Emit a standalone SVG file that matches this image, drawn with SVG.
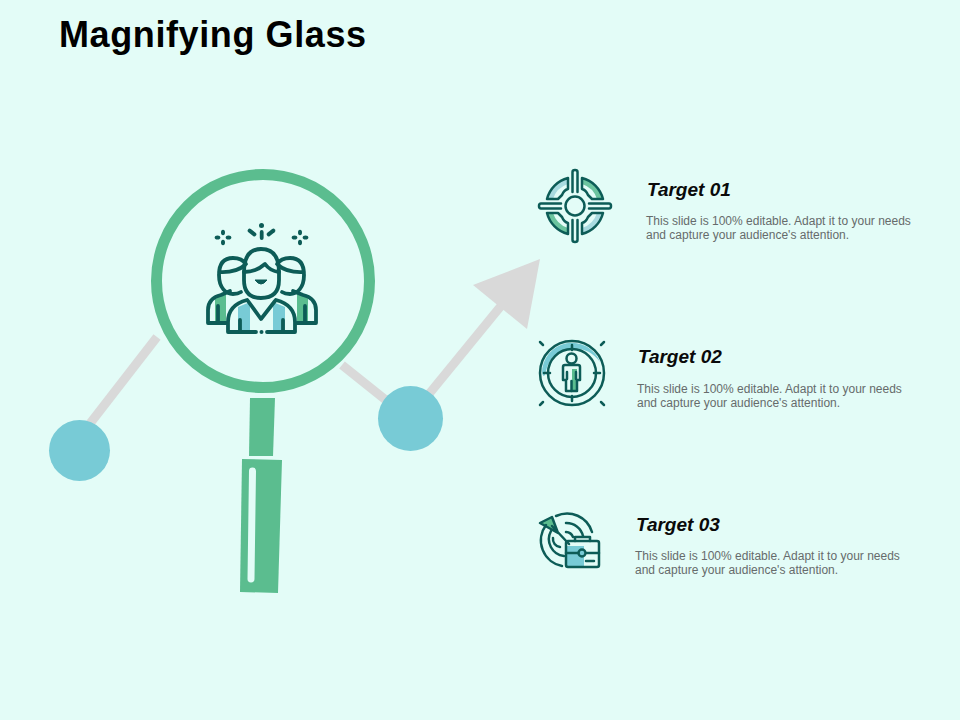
<svg xmlns="http://www.w3.org/2000/svg" width="960" height="720" viewBox="0 0 960 720">
<style>
.h{font-family:"Liberation Sans",Arial,sans-serif;font-size:19px;font-weight:700;font-style:italic;fill:#0a0a0a}
.b{font-family:"Liberation Sans",Arial,sans-serif;font-size:12px;fill:#666b6b}
.i{fill:none;stroke:#0d5c57;stroke-width:3.800;stroke-linecap:round;stroke-linejoin:round}
.t{fill:none;stroke:#0d5c57;stroke-width:2.500;stroke-linecap:round;stroke-linejoin:round}
.g{fill:#5bbd8f}.c{fill:#78cbd6}
</style>
<rect width="960" height="720" fill="#e3fcf7"/>
<text x="59" y="47" font-family="Liberation Sans,Arial,sans-serif" font-size="36" letter-spacing="0.600" font-weight="700" fill="#000">Magnifying Glass</text>
<g id="connectors">
<path d="M157 337L85 430" stroke="#d9d9d9" stroke-width="9" fill="none"/>
<path d="M342 365L392 405" stroke="#d9d9d9" stroke-width="9" fill="none"/>
<path d="M420 405L505 301" stroke="#d9d9d9" stroke-width="9" fill="none"/>
<path d="M540 259L473 285L527 329Z" fill="#d9d9d9"/>
</g>
<g id="dot-left"><circle cx="79.500" cy="450.500" r="30.500" class="c"/></g>
<g id="dot-right"><circle cx="410.500" cy="418.500" r="32.500" class="c"/></g>
<g id="magnifier">
<circle cx="263" cy="281" r="106.500" fill="#e3fcf7" stroke="#5bbd8f" stroke-width="11"/>
<path d="M250 398L275 398L273 456L249 456Z" class="g"/>
<path d="M242 459L282 460L278 593L240 592Z" class="g"/>
<path d="M252.500 471L251 579" stroke="#e3fcf7" stroke-width="7" stroke-linecap="round"/>
</g>
<g id="people-icon">
<path d="M215 298L226 294V323H215Z" class="g"/>
<path d="M308 298L297 294V323H308Z" class="g"/>
<path d="M238 307L250 302V331H238Z" class="c"/>
<path d="M285 307L273 302V331H285Z" class="c"/>
<path class="i" d="M226 323H208V310Q208 298 221 295L230 291"/>
<path class="i" d="M297 323H316V310Q316 298 303 295L293 291"/>
<path class="i" d="M218 306V322M305 306V322"/>
<path class="i" d="M219 275Q219 258 233 258Q242 258 246 264M219 275C219 288 226 294 233 294Q238 294 241 292M219 272Q236 273 245 265"/>
<path class="i" d="M304 275Q304 258 290 258Q281 258 277 264M304 275C304 288 297 294 290 294Q285 294 282 292M304 272Q287 273 278 265"/>
<path class="i" d="M244 272Q244 249 261 249Q279 249 279 272V280Q279 298 261 298Q244 298 244 280Z"/>
<path class="i" d="M244 272Q256 272 265 264Q270 271 279 272"/>
<path class="i" d="M247 300Q228 305 228 322V332H256M276 300Q295 305 295 322V332H267"/>
<path class="i" d="M248 301L261 319L275 301M240 320V331M283 320V331"/>
<path d="M255 280Q261 288 267 280Z" fill="#0d5c57" stroke="#0d5c57"/>
<circle cx="261.500" cy="332" r="2" fill="#0d5c57"/>
<g fill="#0d5c57">
<circle cx="261.500" cy="225.500" r="2.500"/><rect x="259.800" y="230" width="3.800" height="10" rx="1.900"/>
<rect x="247" y="230.500" width="10" height="4" rx="2" transform="rotate(38 252 232.500)"/>
<rect x="266" y="230.500" width="10" height="4" rx="2" transform="rotate(-38 271 232.500)"/>
<g id="sparkle-left"><ellipse cx="223" cy="232.500" rx="2" ry="2.800"/><ellipse cx="223" cy="242.500" rx="2" ry="2.800"/><ellipse cx="217.500" cy="237.500" rx="2.800" ry="2"/><ellipse cx="228.500" cy="237.500" rx="2.800" ry="2"/></g>
<g id="sparkle-right"><ellipse cx="300" cy="232.500" rx="2" ry="2.800"/><ellipse cx="300" cy="242.500" rx="2" ry="2.800"/><ellipse cx="294.500" cy="237.500" rx="2.800" ry="2"/><ellipse cx="305.500" cy="237.500" rx="2.800" ry="2"/></g>
</g>
</g>
<g id="target-01-icon">
<path d="M568 178A29 29 0 0 0 547 199H553A23 23 0 0 1 568 184Z" fill="#a9dbe0"/>
<path d="M582 178A29 29 0 0 1 603 199H597A23 23 0 0 0 582 184Z" fill="#6cc49f"/>
<path d="M568 234A29 29 0 0 1 547 213H553A23 23 0 0 0 568 228Z" fill="#6cc49f"/>
<path d="M582 234A29 29 0 0 0 603 213H597A23 23 0 0 1 582 228Z" fill="#a9dbe0"/>
<g class="t">
<path d="M568 178A29 29 0 0 0 547 199H558L562 195Q564 190 568 189Z"/>
<path d="M582 178A29 29 0 0 1 603 199H592L588 195Q586 190 582 189Z"/>
<path d="M568 234A29 29 0 0 1 547 213H558L562 217Q564 222 568 223Z"/>
<path d="M582 234A29 29 0 0 0 603 213H592L588 217Q586 222 582 223Z"/>
<circle cx="575" cy="206" r="9.500"/>
<path d="M572.500 192V172Q572.500 170 575 170Q577.500 170 577.500 172V192"/>
<path d="M572.500 220V240Q572.500 242 575 242Q577.500 242 577.500 240V220"/>
<path d="M561 203.500H541Q539 203.500 539 206Q539 208.500 541 208.500H561"/>
<path d="M589 203.500H609Q611 203.500 611 206Q611 208.500 609 208.500H589"/>
</g>
</g>
<g id="target-02-icon">
<path d="M542 373A30 30 0 0 1 600 362Q588 346 568 349Q550 353 546 371Q544 380 542 373Z" fill="#78cbd6"/>
<path d="M572 369H577V391H572Z" fill="#5bbd8f"/>
<g class="t">
<circle cx="572" cy="373" r="32"/>
<circle cx="572" cy="373" r="24"/>
<circle cx="571.500" cy="358.500" r="5"/>
<path d="M565 365H578Q580 365 580 367V380H577V391H566V380H563V367Q563 365 565 365Z"/>
<path d="M567 372V379M576 372V379M571.500 381V391"/>
<path d="M572 345V350M572 396V401M544 373H550M594 373H600"/>
<path d="M540 342L543 345M604 342L601 345M540 405L543 402M604 405L601 402"/>
</g>
</g>
<g id="target-03-icon">
<path d="M566 546H599V567H566Z" fill="#e3fcf7"/>
<path d="M566 546H584V567H566Z" fill="#78cbd6"/>
<path d="M540 523L552 517L558 533Z" fill="#5bbd8f"/>
<g class="t">
<path d="M562 566A26 26 0 0 1 546 525M556 516A26 26 0 0 1 592 532"/>
<path d="M564 556A17 17 0 0 1 551 531M566 523A17 17 0 0 1 583 536"/>
<path d="M560 547A8 8 0 0 1 553 538M566 532A8 8 0 0 1 573 537"/>
<path d="M540 523L552 517L558 533ZM552 526L569 544"/>
<rect x="566" y="541" width="33" height="26" rx="2"/>
<path d="M575 541V537H590V541M566 553H578M587 553H599M586 561H594"/>
<circle cx="582" cy="553" r="3.500"/>
</g>
</g>
<g id="target-01"><text x="647" y="196" class="h">Target 01</text>
<text x="646" y="225" class="b">This slide is 100% editable. Adapt it to your needs</text>
<text x="646" y="239" class="b">and capture your audience's attention.</text></g>
<g id="target-02"><text x="638" y="363" class="h">Target 02</text>
<text x="637" y="393" class="b">This slide is 100% editable. Adapt it to your needs</text>
<text x="637" y="407" class="b">and capture your audience's attention.</text></g>
<g id="target-03"><text x="636" y="531" class="h">Target 03</text>
<text x="635" y="560" class="b">This slide is 100% editable. Adapt it to your needs</text>
<text x="635" y="574" class="b">and capture your audience's attention.</text></g>
</svg>
